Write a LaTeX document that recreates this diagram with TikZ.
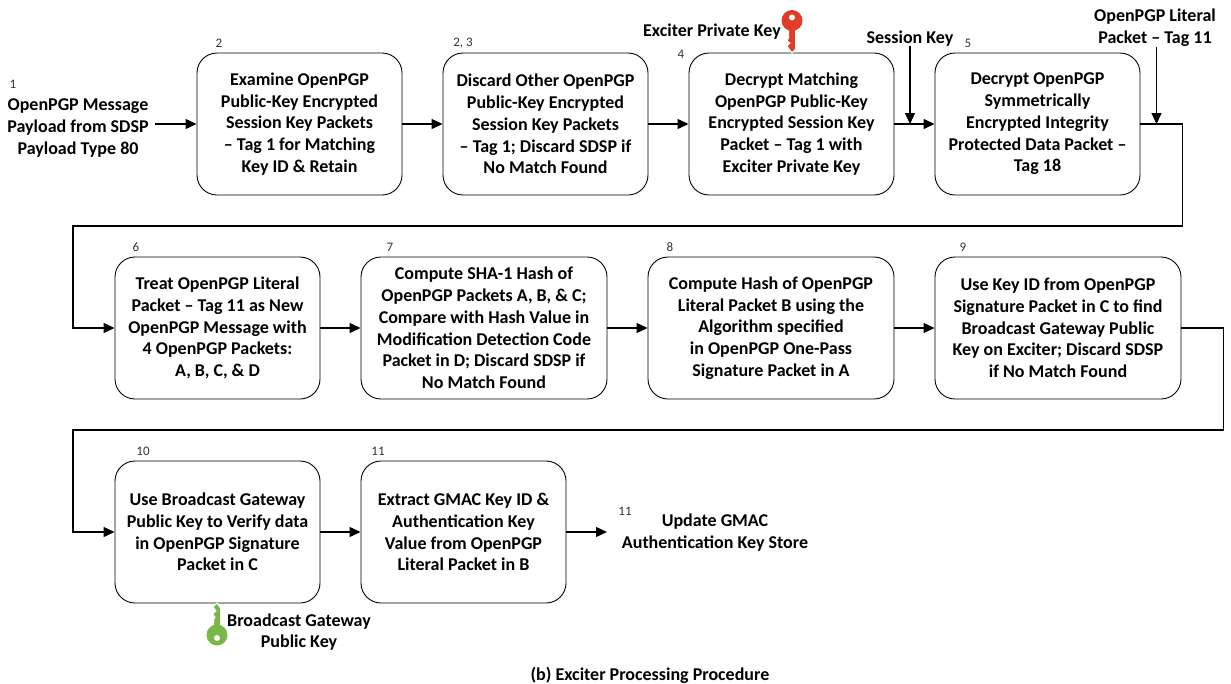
\documentclass[tikz,border=0pt]{standalone}
\usepackage{fontspec}
\setmainfont{Carlito}
\usetikzlibrary{arrows.meta,positioning,calc}
\definecolor{keyred}{HTML}{E03C27}
\definecolor{keygreen}{HTML}{7AB648}
\newcommand\dnstrut{\rule{0pt}{15.5pt}}
\tikzset{
  procbox/.style={draw=black,line width=0.9pt,rounded corners=20pt,minimum width=205pt,minimum height=142pt,inner sep=0pt,align=center,font=\fontsize{18}{21.75}\selectfont\bfseries,anchor=center,execute at begin node=\dnstrut},
  widebox/.style={procbox,minimum width=246pt},
  lbl/.style={align=center,inner sep=0pt,font=\fontsize{18}{21.75}\selectfont\bfseries},
  num/.style={inner sep=0pt,text=black!80,font=\fontsize{13}{14}\selectfont},
  conn/.style={line width=1.2pt,-{Triangle[length=11pt,width=10pt]}},
  keyout/.style={draw=white,line width=1pt}
}
\begin{document}
\begin{tikzpicture}[x=1pt,y=-1pt]
\useasboundingbox (0,0) rectangle (1231,683);
% boxes
\node[procbox] (b2) at (299.5,124) {Examine OpenPGP\\Public-Key Encrypted\\Session Key Packets\\– Tag 1 for Matching\\Key ID \& Retain};
\node[procbox] (b3) at (545.5,124) {Discard Other OpenPGP\\Public-Key Encrypted\\Session Key Packets\\– Tag 1; Discard SDSP if\\No Match Found};
\node[procbox] (b4) at (791.5,124) {Decrypt Matching\\OpenPGP Public-Key\\Encrypted Session Key\\Packet – Tag 1 with\\Exciter Private Key};
\node[procbox] (b5) at (1037.5,124) {Decrypt OpenPGP\\Symmetrically\\Encrypted Integrity\\Protected Data Packet –\\Tag 18};
\node[procbox] (b6) at (217.5,328) {Treat OpenPGP Literal\\Packet – Tag 11 as New\\OpenPGP Message with\\4 OpenPGP Packets:\\A, B, C, \& D};
\node[widebox] (b7) at (484,328) {Compute SHA-1 Hash of\\OpenPGP Packets A, B, \& C;\\Compare with Hash Value in\\Modification Detection Code\\Packet in D; Discard SDSP if\\No Match Found};
\node[widebox] (b8) at (771,328) {Compute Hash of OpenPGP\\Literal Packet B using the\\Algorithm specified\\in OpenPGP One-Pass\\Signature Packet in A};
\node[widebox] (b9) at (1058,328) {Use Key ID from OpenPGP\\Signature Packet in C to find\\Broadcast Gateway Public\\Key on Exciter; Discard SDSP\\if No Match Found};
\node[procbox] (b10) at (217.5,532) {Use Broadcast Gateway\\Public Key to Verify data\\in OpenPGP Signature\\Packet in C};
\node[procbox] (b11) at (463.5,532) {Extract GMAC Key ID \&\\Authentication Key\\Value from OpenPGP\\Literal Packet in B};
% labels
\node[lbl] (src) at (78,128) {OpenPGP Message\\Payload from SDSP\\Payload Type 80};
\node[lbl] (upd) at (715,532.5) {Update GMAC\\Authentication Key Store};
\node[lbl,anchor=east] (epk) at (781,32) {Exciter Private Key};
\node[lbl] (sk) at (910,38.5) {Session Key};
\node[lbl] (lit) at (1155,28) {OpenPGP Literal\\Packet – Tag 11};
\node[lbl] (bgk) at (299,632) {Broadcast Gateway\\Public Key};
\node[lbl] (cap) at (650,675) {(b) Exciter Processing Procedure};
% step numbers
\node[num] (n1) at (13,84) {1};
\node[num] (n2) at (219,43) {2};
\node[num] (n3) at (463,43) {2, 3};
\node[num] (n4) at (681,54) {4};
\node[num] (n5) at (968,43) {5};
\node[num] (n6) at (136,247) {6};
\node[num] (n7) at (390,247) {7};
\node[num] (n8) at (670,247) {8};
\node[num] (n9) at (963,247) {9};
\node[num] (n10) at (143,451) {10};
\node[num] (n11) at (378,451) {11};
\node[num] (n12) at (625,511) {11};
% connectors
\coordinate (s1) at (155,124);
\draw[conn] (s1) -- (b2.west |- s1);
\draw[conn] (b2.east |- s1) -- (b3.west |- s1);
\draw[conn] (b3.east |- s1) -- (b4.west |- s1);
\draw[conn] (b4.east |- s1) -- (b5.west |- s1);
\coordinate (skj) at (910,124);
\draw[conn] (sk.south) -- (skj);
\coordinate (e5) at (1182.5,124);
\coordinate (litj) at (1156.5,124);
\draw[conn] (lit.south -| litj) -- (litj);
\coordinate (c1) at (1182.5,226);
\coordinate (c2) at (73,226);
\coordinate (c3) at (73,328);
\draw[conn] (b5.east |- e5) -- (e5) -- (c1) -- (c2) -- (c3) -- (b6.west);
\draw[conn] (b6.east) -- (b7.west);
\draw[conn] (b7.east) -- (b8.west);
\draw[conn] (b8.east) -- (b9.west);
\coordinate (d1) at (1223.5,328);
\coordinate (d2) at (1223.5,430);
\coordinate (d3) at (73,430);
\coordinate (d4) at (73,532);
\draw[conn] (b9.east) -- (d1) -- (d2) -- (d3) -- (d4) -- (b10.west);
\draw[conn] (b10.east) -- (b11.west);
\coordinate (u1) at (607,532);
\draw[conn] (b11.east) -- (u1);
% red key
\filldraw[keyred,keyout,fill=keyred] (788.5,28) -- (788.5,38) -- (787,41) -- (790,43) -- (787,46) -- (789,49) -- (792,53) -- (795.5,49) -- (795.5,28) -- cycle;
\fill[keyred] (792,20.5) circle (10.5);
\fill[white] (792,17.5) circle (3);
% green key
\filldraw[keygreen,keyout,fill=keygreen] (213.5,628) -- (220.5,628) -- (220.5,608) -- (217,603) -- (213,607) -- (216,611) -- (212.5,614) -- (215,617) -- (213.5,620) -- cycle;
\fill[keygreen] (217,635) circle (10.5);
\fill[white] (217,638) circle (3);
\end{tikzpicture}
\end{document}
